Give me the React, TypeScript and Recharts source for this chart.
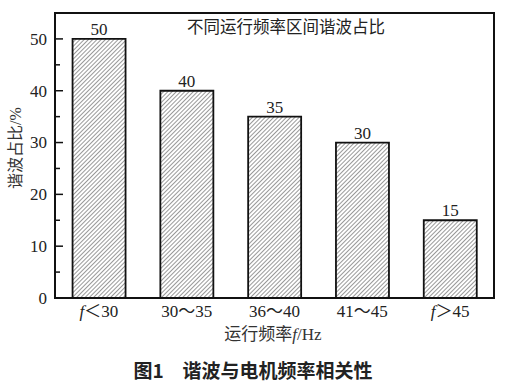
import { Bar, BarChart, LabelList, XAxis, YAxis } from "recharts";

const categories = ["f＜30", "30～35", "36～40", "41～45", "f＞45"];
const shares = [50, 40, 35, 30, 15];
const yTicks = [0, 5, 10, 15, 20, 25, 30, 35, 40, 45, 50];

const data = categories.map((name, i) => ({ name, share: shares[i] }));

const serif = '"Liberation Serif", "Noto Sans CJK SC", serif';

function XTick({ x, y, payload }: any) {
  const v: string = payload.value;
  const italicF = v.startsWith("f");
  return (
    <text x={x} y={y} dy="0.75em" textAnchor="middle" fontFamily={serif} fontSize={17} fill="#222">
      {italicF ? (
        <>
          <tspan fontStyle="italic">f</tspan>
          <tspan>{v.slice(1)}</tspan>
        </>
      ) : (
        v
      )}
    </text>
  );
}

function YTick({ x, y, payload }: any) {
  const major = payload.value % 10 === 0;
  return (
    <g>
      <line x1={x} x2={x + (major ? 8 : 5)} y1={y} y2={y} stroke="#111" strokeWidth={1.5} />
      {major && (
        <text x={x - 8} y={y} dy="0.35em" textAnchor="end" fontFamily={serif} fontSize={17} fill="#222">
          {payload.value}
        </text>
      )}
    </g>
  );
}

export default function App() {
  return (
    <div style={{ position: "absolute", left: 0, top: 0, width: 512, height: 390, background: "#fff" }}>
      <BarChart
        width={512}
        height={390}
        data={data}
        margin={{ top: 13, right: 18, bottom: 62, left: 0 }}
        barCategoryGap="20%"
      >
        <defs>
          <pattern id="hatch" width="3" height="3" patternUnits="userSpaceOnUse" patternTransform="rotate(45)">
            <rect width="3" height="3" fill="#fff" />
            <line x1="0" y1="0" x2="0" y2="3" stroke="#444" strokeWidth={1.1} />
          </pattern>
        </defs>
        <XAxis
          dataKey="name"
          height={30}
          tickSize={0}
          tickMargin={6}
          tickLine={false}
          axisLine={{ stroke: "#111", strokeWidth: 2 }}
          tick={<XTick />}
          interval={0}
        />
        <YAxis
          width={55}
          domain={[0, 55]}
          ticks={yTicks}
          tickSize={0}
          tickMargin={0}
          tickLine={false}
          axisLine={{ stroke: "#111", strokeWidth: 2 }}
          tick={<YTick />}
        />
        <Bar dataKey="share" fill="url(#hatch)" stroke="#111" strokeWidth={1.8} isAnimationActive={false}>
          <LabelList dataKey="share" position="top" offset={4} fontFamily={serif} fontSize={17} fill="#222" />
        </Bar>
        {/* frame */}
        <rect x={55} y={13} width={439} height={285} fill="none" stroke="#111" strokeWidth={2} />
        <text x={286} y={27} dy="0.35em" textAnchor="middle" fontFamily={serif} fontSize={16.5} fill="#222">
          不同运行频率区间谐波占比
        </text>
        <text
          x={15}
          y={148}
          dy="0.35em"
          textAnchor="middle"
          transform="rotate(-90 15 148)"
          fontFamily={serif}
          fontSize={16}
          fill="#333"
        >
          谐波占比/%
        </text>
        <text x={273} y={334} dy="0.35em" textAnchor="middle" fontFamily={serif} fontSize={17} fill="#333">
          运行频率<tspan fontStyle="italic">f</tspan>/Hz
        </text>
        <text
          x={253}
          y={371}
          dy="0.35em"
          textAnchor="middle"
          fontFamily='"Noto Sans CJK SC", sans-serif'
          fontWeight="bold"
          fontSize={19}
          fill="#222"
        >
          图1　谐波与电机频率相关性
        </text>
      </BarChart>
    </div>
  );
}
